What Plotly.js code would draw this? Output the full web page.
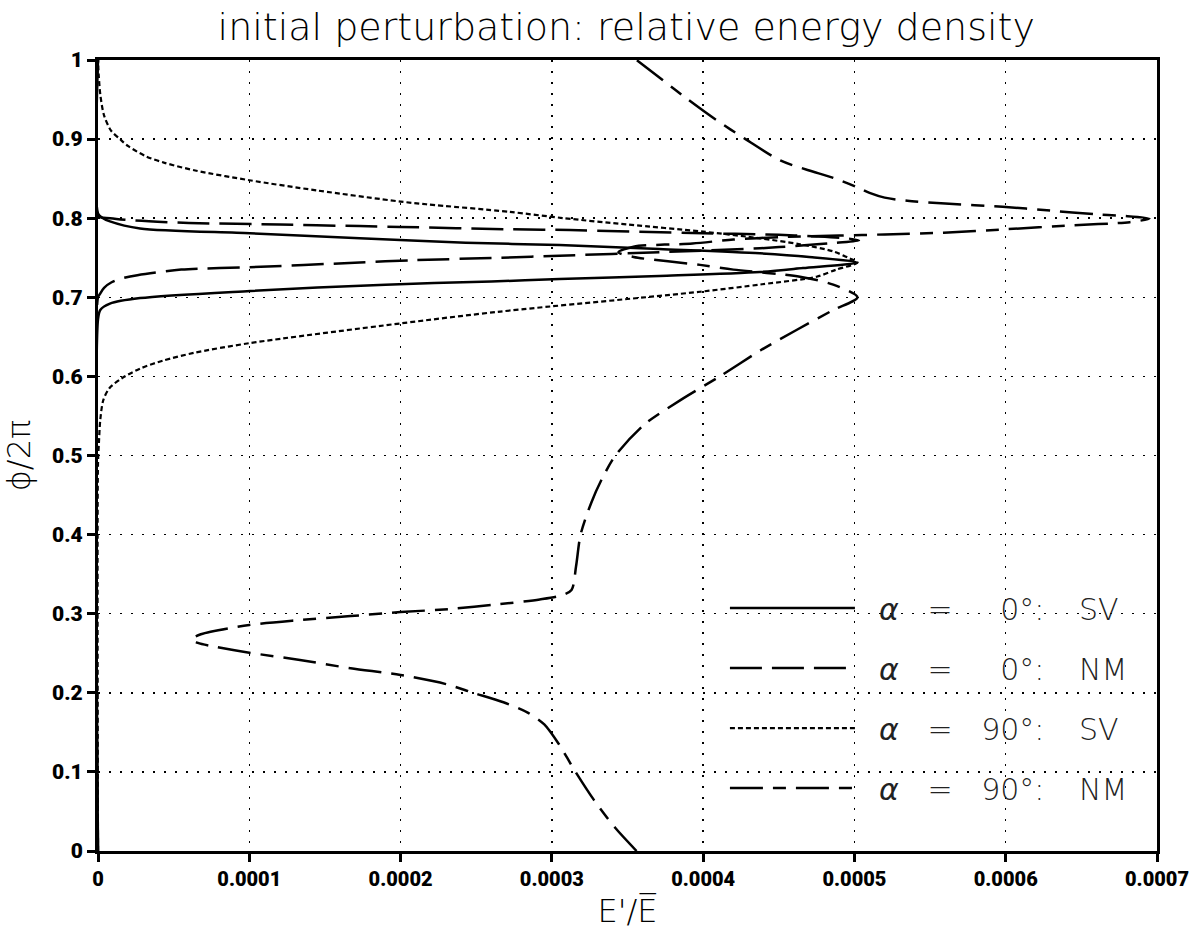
<!DOCTYPE html>
<html>
<head>
<meta charset="utf-8">
<script src="https://cdn.plot.ly/plotly-3.0.1.min.js"></script>
<style>html,body{margin:0;padding:0;background:#fff;}#chart{width:1202px;height:930px;}</style>
</head>
<body>
<div id="chart"></div>
<script>
// ---- data (x = E'/E, y = phi/2pi) ----
const seriesNames = [
  "\u00a0\u00a0<i>α</i>\u00a0\u00a0\u00a0=\u00a0\u00a0\u00a0\u20070°:\u00a0\u00a0\u00a0\u2009SV",
  "\u00a0\u00a0<i>α</i>\u00a0\u00a0\u00a0=\u00a0\u00a0\u00a0\u20070°:\u00a0\u00a0\u00a0\u2009NM",
  "\u00a0\u00a0<i>α</i>\u00a0\u00a0\u00a0=\u00a0\u00a0\u00a090°:\u00a0\u00a0\u00a0\u2009SV",
  "\u00a0\u00a0<i>α</i>\u00a0\u00a0\u00a0=\u00a0\u00a0\u00a090°:\u00a0\u00a0\u00a0\u2009NM"
];

const phi_sv0 = [0, 0.672, 0.684, 0.692, 0.699, 0.708, 0.716, 0.720, 0.723, 0.727, 0.732, 0.737, 0.744, 0.751, 0.7556, 0.761, 0.766, 0.769, 0.7746, 0.781, 0.787, 0.796, 0.801, 0.806, 1];
const E_sv0   = [0, 0, 1.5e-6, 7.9e-6, 2.78e-5, 1.005e-4, 1.9e-4, 2.6e-4, 3.05e-4, 3.71e-4, 4.375e-4, 4.66e-4, 5.02e-4, 4.7e-4, 4.375e-4, 3.71e-4, 3.05e-4, 2.43e-4, 1.73e-4, 1.005e-4, 2.78e-5, 7.9e-6, 2.5e-6, 0, 0];

const phi_nm0 = [0, 0.700, 0.704, 0.712, 0.719, 0.724, 0.728, 0.735, 0.738, 0.744, 0.747, 0.750, 0.7526, 0.757, 0.762, 0.766, 0.769, 0.772, 0.7745, 0.777, 0.779, 0.781, 0.785, 0.786, 0.789, 0.790, 0.792, 0.794, 0.797, 0.800, 0.803, 1];
const E_nm0   = [0, 0, 1.2e-6, 4e-6, 9e-6, 1.6e-5, 2.6e-5, 5.5e-5, 1.0e-4, 1.73e-4, 2.1e-4, 2.66e-4, 3.05e-4, 3.71e-4, 4.375e-4, 4.69e-4, 4.88e-4, 5.03e-4, 4.95e-4, 4.75e-4, 4.5e-4, 4.0e-4, 3.12e-4, 2.72e-4, 2.0e-4, 1.73e-4, 1.2e-4, 6.0e-5, 2.5e-5, 8e-6, 0, 0];

const phi_sv90 = [0, 0.49, 0.516, 0.545, 0.57, 0.585, 0.598, 0.61, 0.62, 0.63, 0.642, 0.667, 0.682, 0.707, 0.7165, 0.726, 0.735, 0.744, 0.749, 0.758, 0.767, 0.7746, 0.783, 0.792, 0.800, 0.808, 0.8176, 0.821, 0.835, 0.848, 0.860, 0.870, 0.878, 0.891, 0.90, 0.911, 0.93, 0.955, 0.98, 1];
const E_sv90   = [0, 0, 6e-7, 1.5e-6, 3.5e-6, 7.5e-6, 1.6e-5, 2.8e-5, 4.3e-5, 6.4e-5, 1.0e-4, 2.0e-4, 2.66e-4, 3.98e-4, 4.39e-4, 4.75e-4, 4.88e-4, 5.02e-4, 4.97e-4, 4.86e-4, 4.64e-4, 4.375e-4, 4.0e-4, 3.5e-4, 3.08e-4, 2.72e-4, 2.17e-4, 2.0e-4, 1.45e-4, 1.0e-4, 6.5e-5, 4.4e-5, 3.2e-5, 2.0e-5, 1.45e-5, 8.5e-6, 4e-6, 1.6e-6, 5e-7, 0];

const phi_nm90 = [0, 0.029, 0.064, 0.102, 0.134, 0.16, 0.175, 0.188, 0.20, 0.211, 0.2225, 0.231, 0.2415, 0.2507, 0.258, 0.263, 0.268, 0.274, 0.2857, 0.292, 0.297, 0.302, 0.306, 0.312, 0.318, 0.323, 0.33, 0.36, 0.40, 0.44, 0.47, 0.50, 0.539, 0.57, 0.60, 0.633, 0.659, 0.684, 0.70, 0.716, 0.726, 0.735, 0.741, 0.751, 0.757, 0.764, 0.768, 0.773, 0.776, 0.778, 0.7795, 0.7817, 0.786, 0.791, 0.795, 0.7995, 0.803, 0.805, 0.8095, 0.8145, 0.8185, 0.822, 0.826, 0.832, 0.839, 0.851, 0.861, 0.873, 0.90, 0.925, 0.95, 0.975, 1.0];
const E_nm90   = [3.56e-4, 3.42e-4, 3.28e-4, 3.15e-4, 3.05e-4, 2.95e-4, 2.84e-4, 2.68e-4, 2.48e-4, 2.3e-4, 2.0e-4, 1.67e-4, 1.335e-4, 1.0e-4, 7.8e-5, 6.6e-5, 6.2e-5, 6.8e-5, 1.0e-4, 1.335e-4, 1.67e-4, 2.0e-4, 2.33e-4, 2.65e-4, 2.92e-4, 3.06e-4, 3.13e-4, 3.16e-4, 3.19e-4, 3.26e-4, 3.33e-4, 3.42e-4, 3.61e-4, 3.85e-4, 4.11e-4, 4.38e-4, 4.62e-4, 4.86e-4, 5.02e-4, 4.86e-4, 4.64e-4, 4.2e-4, 3.98e-4, 3.54e-4, 3.44e-4, 3.54e-4, 3.93e-4, 4.2e-4, 4.5e-4, 4.9e-4, 5.2e-4, 5.59e-4, 6.0e-4, 6.44e-4, 6.82e-4, 6.95e-4, 6.77e-4, 6.6e-4, 6.3e-4, 5.98e-4, 5.6e-4, 5.35e-4, 5.2e-4, 5.1e-4, 5.02e-4, 4.86e-4, 4.69e-4, 4.51e-4, 4.28e-4, 4.08e-4, 3.9e-4, 3.73e-4, 3.56e-4];

const xTickVals = [0, 0.0001, 0.0002, 0.0003, 0.0004, 0.0005, 0.0006, 0.0007];
const xTickText = ["0", "0.0001", "0.0002", "0.0003", "0.0004", "0.0005", "0.0006", "0.0007"];
const yTickVals = [0, 0.1, 0.2, 0.3, 0.4, 0.5, 0.6, 0.7, 0.8, 0.9, 1];
const yTickText = ["0", "0.1", "0.2", "0.3", "0.4", "0.5", "0.6", "0.7", "0.8", "0.9", "1"];

// ---- styling ----
const thinFont = "DejaVu Sans, Liberation Sans, sans-serif";
const heavyFont = "Roboto, Lato, Inter, Liberation Sans, sans-serif";
const lineStyles = [
  {color: "#000", width: 2.5, dash: "solid"},
  {color: "#000", width: 2.5, dash: "32px,10px"},
  {color: "#000", width: 2.2, dash: "5px,3px"},
  {color: "#000", width: 2.5, dash: "33px,10px,13px,10px"}
];
const xs = [E_sv0, E_nm0, E_sv90, E_nm90];
const ys = [phi_sv0, phi_nm0, phi_sv90, phi_nm90];

const traces = xs.map((x, i) => ({
  type: "scatter", mode: "lines",
  x: x, y: ys[i],
  name: seriesNames[i],
  legendgroup: "g" + i,
  line: Object.assign({shape: "spline", smoothing: 0.8}, lineStyles[i]),
  hoverinfo: "skip"
}));

const axisCommon = {
  showline: true, mirror: true, linecolor: "#000", linewidth: 3,
  ticks: "outside", ticklen: 8, tickwidth: 3, tickcolor: "#000",
  showgrid: true, gridcolor: "#000", gridwidth: 1.5, griddash: "2px,9px",
  zeroline: false, tickmode: "array"
};

const layout = {
  width: 1202, height: 930,
  paper_bgcolor: "#fff", plot_bgcolor: "#fff",
  margin: {l: 98, r: 45, t: 60, b: 79},
  title: {
    text: "initial perturbation: relative energy density",
    font: {family: thinFont, size: 38, weight: 200, color: "#000"},
    x: 0.521, xanchor: "center", xref: "container",
    y: 0.971, yanchor: "middle", yref: "container"
  },
  xaxis: Object.assign({}, axisCommon, {
    range: [0, 0.0007], tickvals: xTickVals, ticktext: xTickText,
    tickfont: {family: heavyFont, size: 20, weight: 900, color: "#000"},
    title: {text: "E'/E\u0305", font: {family: thinFont, size: 32, weight: 200, color: "#000"}, standoff: 10}
  }),
  yaxis: Object.assign({}, axisCommon, {
    range: [0, 1], tickvals: yTickVals, ticktext: yTickText,
    tickfont: {family: heavyFont, size: 21, weight: 900, color: "#000"},
    title: {text: "ϕ/2π", font: {family: thinFont, size: 32, weight: 200, color: "#000"}, standoff: 12}
  }),
  showlegend: true,
  legend: {
    x: 0.592, y: 0.34, xanchor: "left", yanchor: "top",
    bgcolor: "rgba(0,0,0,0)", borderwidth: 0,
    font: {family: thinFont, size: 30, weight: 200, color: "#222"},
    itemwidth: 125, tracegroupgap: 18, traceorder: "grouped"
  }
};

Plotly.newPlot("chart", traces, layout, {staticPlot: true, displayModeBar: false});
</script>
</body>
</html>
